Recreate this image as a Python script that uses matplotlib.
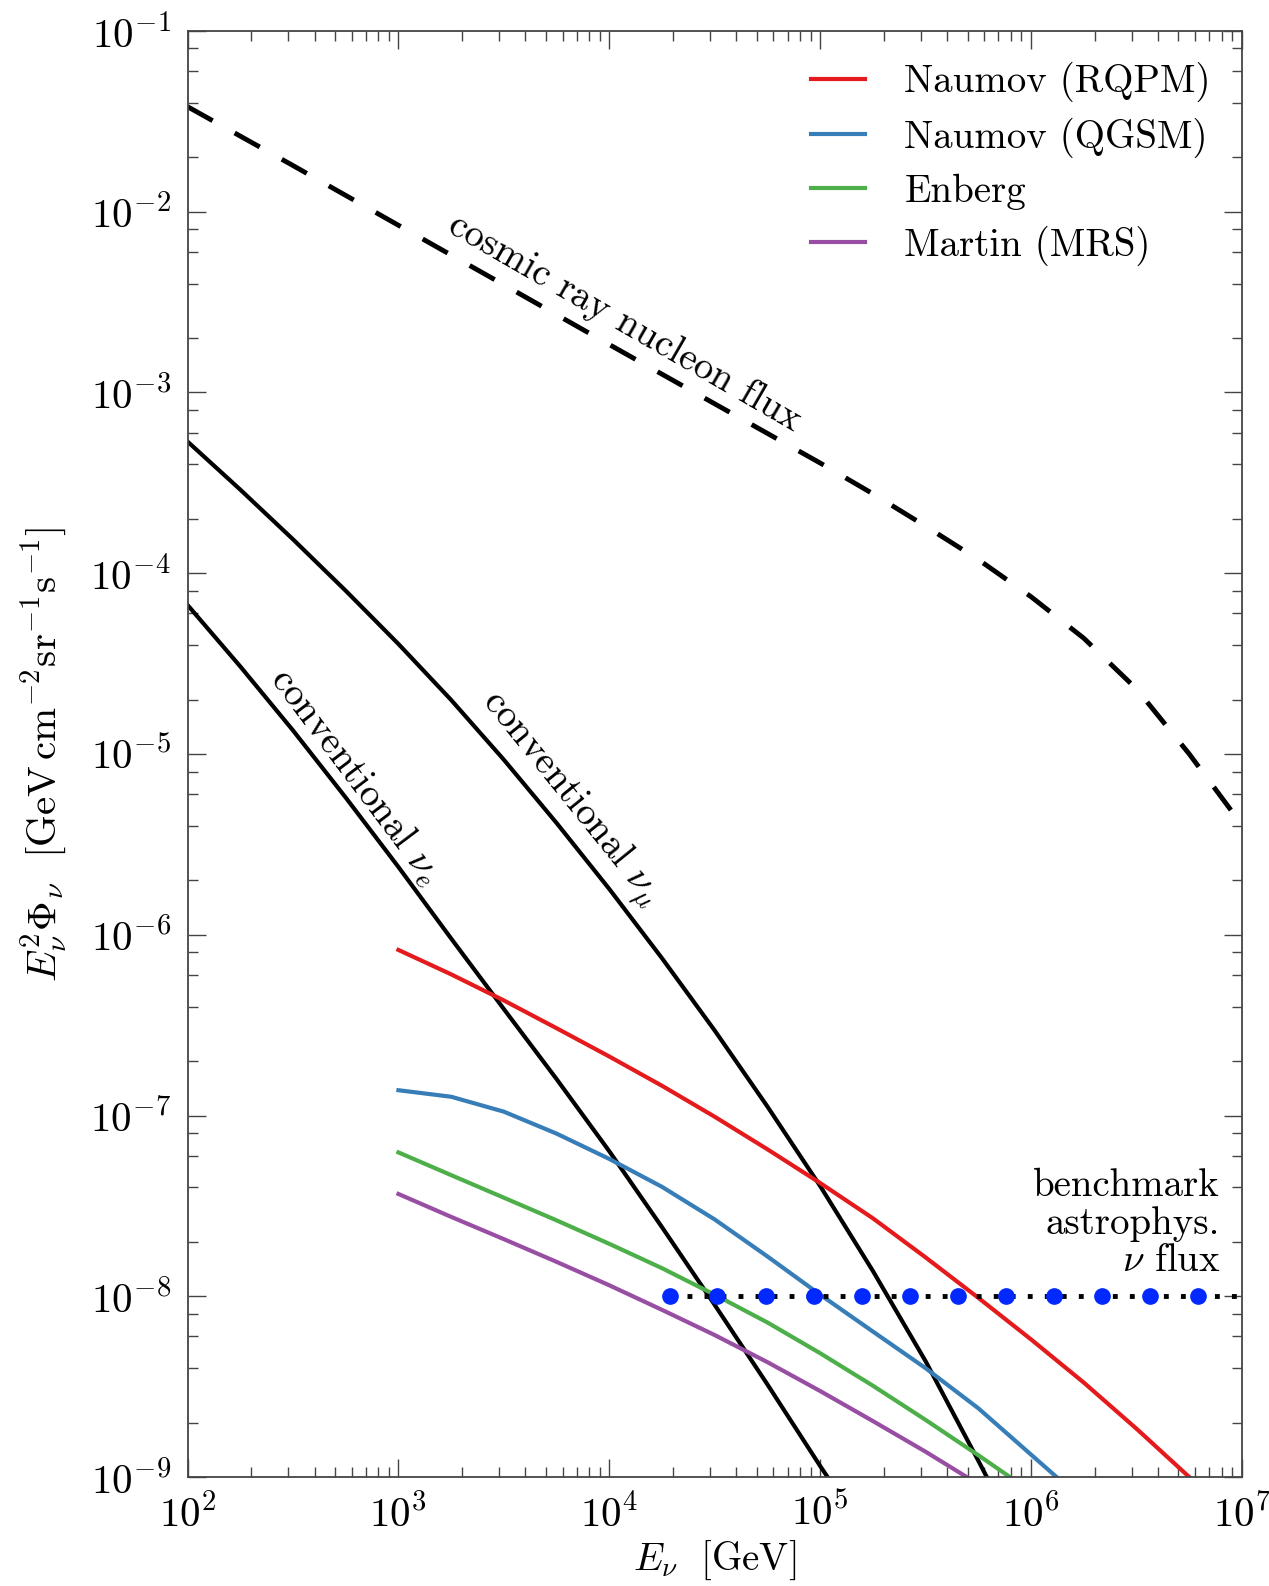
import matplotlib
matplotlib.use("Agg")
import matplotlib.pyplot as plt
from matplotlib.ticker import LogLocator, LogFormatterMathtext, NullFormatter

plt.rcParams['font.family'] = ['cmr10', 'DejaVu Serif']
plt.rcParams['mathtext.fontset'] = 'cm'
plt.rcParams['axes.formatter.use_mathtext'] = True

# ---------------- data ----------------
cr_E = [1e2, 3.162e2, 1e3, 3.162e3, 1e4, 3.162e4, 1e5, 1.778e5, 3.162e5,
        5.623e5, 1e6, 1.778e6, 3.162e6, 5.623e6, 1e7]
cr_flux = [3.81e-2, 1.80e-2, 8.41e-3, 3.94e-3, 1.84e-3, 8.65e-4, 4.07e-4,
           2.75e-4, 1.82e-4, 1.19e-4, 7.41e-5, 4.37e-5, 2.29e-5, 1.0e-5, 4.05e-6]

numu_E = [1e2, 1.778e2, 3.162e2, 5.623e2, 1e3, 1.778e3, 3.162e3, 5.623e3, 1e4,
          1.778e4, 3.162e4, 5.623e4, 1e5, 1.778e5, 3.162e5, 5.623e5, 6.166e5]
numu_flux = [5.35e-4, 2.90e-4, 1.54e-4, 8.00e-5, 4.06e-5, 1.99e-5, 9.29e-6,
             4.15e-6, 1.79e-6, 7.41e-7, 2.95e-7, 1.12e-7, 4.07e-8, 1.38e-8,
             4.37e-9, 1.23e-9, 1.0e-9]

nue_E = [1e2, 1.778e2, 3.162e2, 5.623e2, 1e3, 1.778e3, 3.162e3, 5.623e3, 1e4,
         1.778e4, 3.162e4, 5.623e4, 1e5, 1.084e5]
nue_flux = [6.67e-5, 3.05e-5, 1.35e-5, 5.74e-6, 2.37e-6, 9.53e-7, 3.88e-7,
            1.59e-7, 6.34e-8, 2.41e-8, 8.95e-9, 3.25e-9, 1.15e-9, 1.0e-9]

rqpm_E = [1e3, 1.778e3, 3.162e3, 5.623e3, 1e4, 1.778e4, 3.162e4, 5.623e4, 1e5,
          1.778e5, 3.162e5, 5.623e5, 1e6, 1.778e6, 3.162e6, 5.623e6]
rqpm_flux = [8.24e-7, 6.04e-7, 4.33e-7, 3.04e-7, 2.12e-7, 1.46e-7, 9.84e-8,
             6.50e-8, 4.23e-8, 2.70e-8, 1.64e-8, 9.80e-9, 5.77e-9, 3.33e-9,
             1.85e-9, 1.0e-9]

qgsm_E = [1e3, 1.778e3, 3.162e3, 5.623e3, 1e4, 1.778e4, 3.162e4, 5.623e4, 1e5,
          1.778e5, 3.162e5, 5.623e5, 1e6, 1.321e6]
qgsm_flux = [1.38e-7, 1.27e-7, 1.05e-7, 7.94e-8, 5.75e-8, 4.03e-8, 2.66e-8,
             1.66e-8, 1.02e-8, 6.38e-9, 4.00e-9, 2.40e-9, 1.33e-9, 1.0e-9]

enberg_E = [1e3, 1.778e3, 3.162e3, 5.623e3, 1e4, 1.778e4, 3.162e4, 5.623e4,
            1e5, 1.778e5, 3.162e5, 5.623e5, 7.943e5]
enberg_flux = [6.25e-8, 4.68e-8, 3.51e-8, 2.63e-8, 1.95e-8, 1.43e-8, 1.02e-8,
               7.16e-9, 4.84e-9, 3.20e-9, 2.07e-9, 1.32e-9, 1.0e-9]

mrs_E = [1e3, 1.778e3, 3.162e3, 5.623e3, 1e4, 1.778e4, 3.162e4, 5.623e4, 1e5,
         1.778e5, 3.162e5, 4.955e5]
mrs_flux = [3.68e-8, 2.75e-8, 2.07e-8, 1.55e-8, 1.15e-8, 8.41e-9, 6.10e-9,
            4.32e-9, 2.99e-9, 2.04e-9, 1.38e-9, 1.0e-9]

astro_E = [1.94e4, 1e7]
astro_flux = [1e-8, 1e-8]
astro_dots_E = [1.94e4, 3.25e4, 5.52e4, 9.38e4, 1.57e5, 2.68e5, 4.5e5, 7.64e5,
                1.28e6, 2.18e6, 3.66e6, 6.22e6]
astro_dots_flux = [1e-8] * len(astro_dots_E)

legend_labels = ['Naumov (RQPM)', 'Naumov (QGSM)', 'Enberg', 'Martin (MRS)']
colors = ['#e41a1c', '#377eb8', '#4daf4a', '#984ea3']

# ---------------- figure ----------------
fig = plt.figure(figsize=(12.69, 15.86), dpi=100)
ax = fig.add_axes([0.1478, 0.0687, 0.9787 - 0.1478, 0.9805 - 0.0687])
ax.set_xscale('log')
ax.set_yscale('log')

ax.plot(cr_E, cr_flux, color='black', lw=3.5, linestyle=(0, (5.9, 5.2)))
ax.plot(numu_E, numu_flux, color='black', lw=3)
ax.plot(nue_E, nue_flux, color='black', lw=3)

for E, F, c, lab in zip([rqpm_E, qgsm_E, enberg_E, mrs_E],
                        [rqpm_flux, qgsm_flux, enberg_flux, mrs_flux],
                        colors, legend_labels):
    ax.plot(E, F, color=c, lw=3, label=lab)

ax.plot(astro_E, astro_flux, color='black', lw=3.5, linestyle=(0, (1, 2.5)))
ax.plot(astro_dots_E, astro_dots_flux, linestyle='none', marker='o',
        ms=11, color='#0028ff', mec='#0028ff')

ax.set_xlim(1e2, 1e7)
ax.set_ylim(1e-9, 1e-1)

# ticks
ax.xaxis.set_major_locator(LogLocator(base=10, numticks=20))
ax.xaxis.set_minor_locator(LogLocator(base=10, subs=(2, 3, 4, 5, 6, 7, 8, 9), numticks=20))
ax.yaxis.set_major_locator(LogLocator(base=10, numticks=20))
ax.yaxis.set_minor_locator(LogLocator(base=10, subs=(2, 4, 6, 8), numticks=20))
ax.xaxis.set_major_formatter(LogFormatterMathtext())
ax.yaxis.set_major_formatter(LogFormatterMathtext())
ax.xaxis.set_minor_formatter(NullFormatter())
ax.yaxis.set_minor_formatter(NullFormatter())
ax.tick_params(which='both', direction='in', top=True, right=True,
               color='#444444', labelsize=29.5)
ax.tick_params(which='major', length=13, width=1.0, pad=12)
ax.tick_params(which='minor', length=7, width=1.0)
for s in ax.spines.values():
    s.set_color('#444444')
    s.set_linewidth(1.3)

ax.set_xlabel(r'$E_{\nu}\ \ [\mathrm{GeV}]$', fontsize=28, labelpad=3)
ax.set_ylabel(r'$E_{\nu}^{2}\Phi_{\nu}\ \ [\mathrm{GeV\,cm^{-2}sr^{-1}s^{-1}}]$',
              fontsize=29.5, labelpad=14)

# annotations
ax.text(1.18e4, 2.44e-3, 'cosmic ray nucleon flux', rotation=-30,
        ha='center', va='center', rotation_mode='anchor', fontsize=28)
ax.text(6.5e3, 5.6e-6, r'conventional $\nu_{\mu}$', rotation=-51,
        ha='center', va='center', rotation_mode='anchor', fontsize=28)
ax.text(6.3e2, 7.5e-6, r'conventional $\nu_{e}$', rotation=-53,
        ha='center', va='center', rotation_mode='anchor', fontsize=28)
ax.text(7.87e6, 1.25e-8, 'benchmark\nastrophys.\n' + r'$\nu$ flux',
        ha='right', va='bottom', multialignment='right', fontsize=28,
        linespacing=1.05)

leg = ax.legend(loc='upper right', frameon=False, fontsize=28,
                handlelength=1.4, handletextpad=1.0, labelspacing=0.4,
                borderaxespad=0.4)

fig.savefig('out.png', dpi=100)
